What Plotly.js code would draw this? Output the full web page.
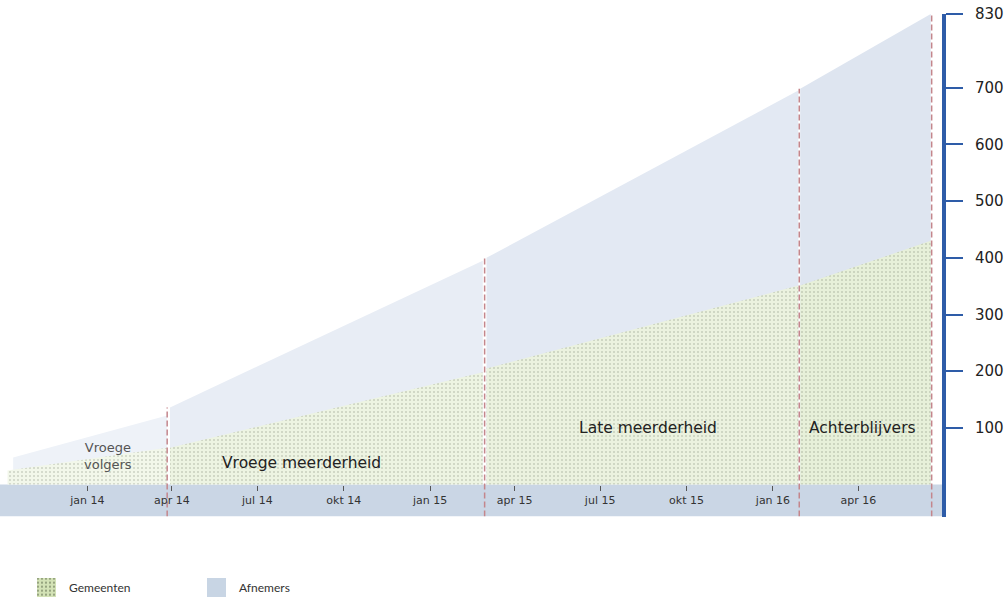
<!DOCTYPE html>
<html><head><meta charset="utf-8">
<script src="https://cdn.plot.ly/plotly-3.0.1.min.js"></script>
<style>html,body{margin:0;padding:0;background:#fff}#chart{width:1007px;height:598px}</style>
</head><body><div id="chart"></div>
<script>
// ---- data ----
const phases = ['Vroege<br>volgers', 'Vroege meerderheid', 'Late meerderheid', 'Achterblijvers'];
const phaseStart = ['2013-10-14', '2014-03-30', '2015-03-02', '2016-01-30'];
const gemeentenFrom = ['2013-10-08', '2014-03-30', '2015-03-02', '2016-01-30'];
const phaseEnd = ['2014-03-27', '2015-02-26', '2016-01-28', '2016-06-17'];
const phaseLine = ['2014-03-27', '2015-02-28', '2016-01-29', '2016-06-18'];
const afnemersStart = [48, 136, 400, 698];
const afnemersEnd = [122, 395, 695, 830];
const gemeentenStart = [25, 65, 205, 351];
const gemeentenEnd = [65, 198, 351, 430];
const tickDates = ['2014-01-01', '2014-04-01', '2014-07-01', '2014-10-01', '2015-01-01', '2015-04-01', '2015-07-01', '2015-10-01', '2016-01-01', '2016-04-01'];
const tickLabels = ['jan 14', 'apr 14', 'jul 14', 'okt 14', 'jan 15', 'apr 15', 'jul 15', 'okt 15', 'jan 16', 'apr 16'];
const yTicks = [100, 200, 300, 400, 500, 600, 700, 830];
const seriesNames = ['Gemeenten', 'Afnemers'];

// ---- layout constants ----
const W = 1007, H = 598, T = 14, R = 65;
const yMin = -56.4, yMax = 830;
const plotH = H - T;
const d0 = (H - 516.6) / plotH;
const zeroPos = d0 + (0 - yMin) / (yMax - yMin) * (1 - d0);

const blueShades = ['#eef2f8', '#e8edf5', '#e3e9f3', '#dee5f0'];
const greenShades = ['#f2f7ea', '#edf4e2', '#ebf2df', '#e7f0d9'];
const dotColor = '#6a735d';
const axisBlue = '#2e5ca8';
const dashColor = '#c4868c';

const traces = [];
for (let i = 0; i < phases.length; i++) {
  traces.push({
    type: 'scatter', mode: 'lines', xaxis: 'x', yaxis: 'y',
    x: [phaseStart[i], phaseEnd[i], phaseEnd[i], phaseStart[i]],
    y: [afnemersStart[i], afnemersEnd[i], 0, 0],
    fill: 'toself', fillcolor: blueShades[i], line: {width: 0},
    hoverinfo: 'skip', showlegend: false
  });
}
for (let i = 0; i < phases.length; i++) {
  traces.push({
    type: 'scatter', mode: 'lines', xaxis: 'x', yaxis: 'y',
    x: [gemeentenFrom[i], phaseEnd[i], phaseEnd[i], gemeentenFrom[i]],
    y: [gemeentenStart[i], gemeentenEnd[i], 0, 0],
    fill: 'toself', fillcolor: greenShades[i],
    fillpattern: {shape: '.', bgcolor: greenShades[i], fgcolor: dotColor, fgopacity: 0.6, size: 4, solidity: 0.09},
    line: {width: 0}, hoverinfo: 'skip', showlegend: false
  });
}
for (let i = 0; i < phaseLine.length; i++) {
  const top = i < phaseLine.length - 1 ? afnemersStart[i + 1] : afnemersEnd[i];
  traces.push({
    type: 'scatter', mode: 'lines', xaxis: 'x', yaxis: 'y',
    x: [phaseLine[i], phaseLine[i]], y: [yMin, top],
    line: {color: dashColor, width: 1.5, dash: '6px,3px'},
    hoverinfo: 'skip', showlegend: false
  });
}
// legend swatches (pixel-unit helper axes)
traces.push({
  type: 'scatter', mode: 'lines', xaxis: 'x2', yaxis: 'y2',
  x: [37, 56, 56, 37], y: [1, 1, 20, 20], fill: 'toself', fillcolor: '#d3e2b6',
  fillpattern: {shape: '.', bgcolor: '#d3e2b6', fgcolor: '#4e5a3e', fgopacity: 0.9, size: 4, solidity: 0.15},
  line: {width: 0}, hoverinfo: 'skip', showlegend: false
});
traces.push({
  type: 'scatter', mode: 'lines', xaxis: 'x2', yaxis: 'y2',
  x: [207, 226, 226, 207], y: [1, 1, 20, 20], fill: 'toself', fillcolor: '#c8d5e4',
  line: {width: 0}, hoverinfo: 'skip', showlegend: false
});

const annPos = [
  {x: '2014-01-23', y: 51, size: 13, color: '#555555'},
  {x: '2014-08-17', y: 39, size: 15.5, color: '#222222'},
  {x: '2015-08-21', y: 100, size: 15.5, color: '#222222'},
  {x: '2016-04-05', y: 100, size: 15.5, color: '#222222'}
];
const annotations = phases.map((p, i) => ({
  text: p, x: annPos[i].x, y: annPos[i].y, xref: 'x', yref: 'y', showarrow: false,
  font: {family: 'DejaVu Sans, Verdana, sans-serif', size: annPos[i].size, color: annPos[i].color},
  xanchor: 'center', yanchor: 'middle'
}));
annotations.push({text: seriesNames[0], x: 67 / (W - R), y: (H - 587) / plotH, xref: 'paper', yref: 'paper', showarrow: false, xanchor: 'left', yanchor: 'middle', font: {family: 'Lato, sans-serif', size: 12, color: '#333333'}});
annotations.push({text: seriesNames[1], x: 237 / (W - R), y: (H - 587) / plotH, xref: 'paper', yref: 'paper', showarrow: false, xanchor: 'left', yanchor: 'middle', font: {family: 'Lato, sans-serif', size: 12, color: '#333333'}});

const layout = {
  width: W, height: H,
  margin: {l: 0, r: R, t: T, b: 0, pad: 0},
  paper_bgcolor: '#ffffff', plot_bgcolor: 'rgba(0,0,0,0)',
  showlegend: false,
  xaxis: {
    type: 'date', range: ['2013-09-30', '2016-06-29'], anchor: 'free', position: zeroPos,
    tickvals: tickDates, ticktext: tickLabels, ticks: 'outside', ticklen: 5, tickwidth: 1, tickcolor: '#555555',
    tickfont: {family: 'DejaVu Sans, Verdana, sans-serif', size: 11, color: '#333333'},
    showgrid: false, zeroline: false, showline: false, fixedrange: true
  },
  yaxis: {
    domain: [d0, 1], range: [yMin, yMax], side: 'right', anchor: 'x',
    tickvals: yTicks, ticks: 'outside', ticklen: 17, tickwidth: 2, tickcolor: axisBlue,
    showline: true, linewidth: 4, linecolor: axisBlue, ticklabelstandoff: 9,
    tickfont: {family: 'DejaVu Sans, Verdana, sans-serif', size: 15, color: '#222222'},
    showgrid: false, zeroline: false, fixedrange: true
  },
  xaxis2: {domain: [0, 1], range: [0, W - R], anchor: 'y2', visible: false, fixedrange: true},
  yaxis2: {domain: [0, d0], range: [0, H - 516.6], anchor: 'x2', visible: false, fixedrange: true},
  shapes: [{
    type: 'rect', xref: 'paper', yref: 'y', x0: 0, x1: 1, y0: yMin, y1: 0,
    fillcolor: '#cad6e5', line: {width: 0}, layer: 'below'
  }],
  annotations: annotations
};

Plotly.newPlot('chart', traces, layout, {displayModeBar: false, staticPlot: true});
</script>
</body></html>
